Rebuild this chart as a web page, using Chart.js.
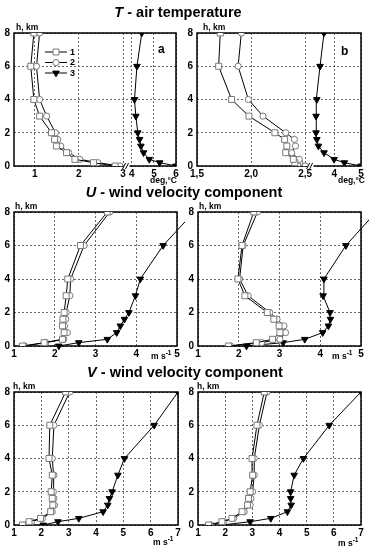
<!DOCTYPE html>
<html>
<head>
<meta charset="utf-8">
<script src="https://cdn.jsdelivr.net/npm/chart.js@4.4.0/dist/chart.umd.min.js"></script>
<style>
body { margin: 0; background: #fff; }
#fig { position: relative; width: 369px; height: 550px; overflow: hidden; font-family: "Liberation Sans", Arial, sans-serif; color: #000; }
#fig canvas { position: absolute; }
.t { position: absolute; font-weight: bold; white-space: nowrap; line-height: 1; z-index: 2; }
.title { font-size: 14.5px; width: 240px; text-align: center; line-height: 15px; }
.hk { font-size: 8.5px; }
.u { font-size: 8.5px; }
.u sup { font-size: 6.5px; }
.let { font-size: 12px; }
</style>
</head>
<body>
<div id="fig">
  <div class="t title" style="left:58px;top:5px"><i>T</i> - air temperature</div>
  <div class="t title" style="left:64px;top:185px"><i>U</i> - wind velocity component</div>
  <div class="t title" style="left:65px;top:365px"><i>V</i> - wind velocity component</div>

  <div class="t hk" style="left:16px;top:23px">h, km</div>
  <div class="t hk" style="left:203px;top:23px">h, km</div>
  <div class="t hk" style="left:15px;top:202px">h, km</div>
  <div class="t hk" style="left:199px;top:202px">h, km</div>
  <div class="t hk" style="left:13px;top:382px">h, km</div>
  <div class="t hk" style="left:197px;top:382px">h, km</div>

  <div class="t let" style="left:158px;top:43px">a</div>
  <div class="t let" style="left:341px;top:45px">b</div>

  <div class="t u" style="left:150px;top:176px">deg,°C</div>
  <div class="t u" style="left:338px;top:176px">deg,°C</div>
  <div class="t u" style="left:151px;top:350px">m s<sup>-1</sup></div>
  <div class="t u" style="left:332px;top:350px">m s<sup>-1</sup></div>
  <div class="t u" style="left:153px;top:536px">m s<sup>-1</sup></div>
  <div class="t u" style="left:338px;top:537px">m s<sup>-1</sup></div>
</div>
<script>
// heights of the profile points, km
const heights = [0, 0.2, 0.4, 0.8, 1.2, 1.6, 2, 3, 4, 6, 8];
const seriesNames = ['1', '2', '3'];

// T - air temperature, deg C (a, b)
const tempA1 = [2.82, 2.33, 1.91, 1.72, 1.49, 1.45, 1.38, 1.11, 0.98, 0.91, 0.98];
const tempA2 = [2.93, 2.43, 2.02, 1.77, 1.59, 1.52, 1.47, 1.27, 1.11, 1.04, 1.11];
const tempA3 = [6.0, 5.26, 4.79, 4.53, 4.41, 4.35, 4.27, 4.18, 4.12, 4.23, 4.45];
const tempB1 = [2.43, 2.405, 2.39, 2.32, 2.33, 2.31, 2.22, 1.98, 1.82, 1.70, 1.715];
const tempB2 = [2.50, 2.45, 2.445, 2.375, 2.41, 2.40, 2.32, 2.11, 1.975, 1.88, 1.91];
const tempB3 = [5.0, 4.375, 3.99, 3.61, 3.40, 3.34, 3.31, 3.31, 3.34, 3.46, 3.61];

// U - wind velocity component, m/s
const uA1 = [1.21, 1.74, 2.19, 2.23, 2.19, 2.20, 2.23, 2.28, 2.32, 2.63, 3.29];
const uA2 = [1.26, 1.78, 2.22, 2.31, 2.24, 2.27, 2.28, 2.37, 2.39, 2.72, 3.35];
const uA3 = [2.10, 2.59, 3.29, 3.52, 3.61, 3.71, 3.82, 3.98, 4.10, 4.66, 5.42];
const uB1 = [1.75, 2.43, 2.83, 3.01, 2.99, 2.86, 2.70, 2.15, 1.98, 2.08, 2.37];
const uB2 = [1.80, 2.56, 3.01, 3.15, 3.11, 2.94, 2.76, 2.23, 2.02, 2.11, 2.46];
const uB3 = [2.19, 3.09, 3.62, 4.06, 4.20, 4.25, 4.24, 4.07, 4.09, 4.63, 5.37];

// V - wind velocity component, m/s
const vA1 = [1.31, 1.55, 1.97, 2.34, 2.42, 2.40, 2.36, 2.40, 2.28, 2.31, 2.89];
const vA2 = [1.39, 1.64, 2.04, 2.40, 2.48, 2.46, 2.44, 2.46, 2.40, 2.46, 3.04];
const vA3 = [2.07, 2.61, 3.37, 4.26, 4.43, 4.49, 4.59, 4.80, 5.04, 6.13, 7.0];
const vB1 = [1.39, 1.88, 2.25, 2.62, 2.82, 2.86, 2.92, 3.01, 2.99, 3.17, 3.44];
const vB2 = [1.48, 1.94, 2.31, 2.70, 2.92, 2.95, 3.01, 3.07, 3.07, 3.26, 3.54];
const vB3 = [1.90, 2.92, 3.68, 4.29, 4.43, 4.41, 4.41, 4.54, 4.88, 5.83, 7.0];

// x tick values and labels
const tempATicks = [1, 2, 3, 4, 5, 6];
const tempALabels = ['1', '2', '3', '4', '5', '6'];
const tempBTicks = [1.5, 2.0, 2.5, 4, 5];
const tempBLabels = ['1,5', '2,0', '2,5', '4', '5'];
const uTicks = [1, 2, 3, 4, 5];
const vTicks = [1, 2, 3, 4, 5, 6, 7];
const hTicks = [0, 2, 4, 6, 8];

// broken x axes of the temperature panels
const breakA = v => v < 3.5 ? v : 3.2 + (v - 4) * 0.5;
const breakB = v => v < 3 ? v : 2.77 + (v - 4) * 0.246;

const fontFamily = '"Liberation Sans", Arial, sans-serif';
const tickFont = {family: fontFamily, size: 10, weight: 'bold'};

const styles = [
    {pointStyle: 'rect', radius: 4.2, rotation: 0, fill: '#fff', stroke: '#7a7a7a'},
    {pointStyle: 'circle', radius: 3.1, rotation: 0, fill: '#fff', stroke: '#7a7a7a'},
    {pointStyle: 'triangle', radius: 3.8, rotation: 180, fill: '#000', stroke: '#000'}
];

const framePlugin = {
    id: 'frame',
    beforeDatasetsDraw(chart) {
        const {ctx, chartArea: a} = chart;
        ctx.save();
        ctx.strokeStyle = '#000';
        ctx.lineWidth = 1.5;
        ctx.strokeRect(a.left, a.top, a.width, a.height);
        ctx.restore();
    },
    afterDraw(chart, args, opts) {
        const {ctx, chartArea: a} = chart;
        ctx.save();
        if (opts.breakAt != null) {
            const px = chart.scales.x.getPixelForValue(opts.breakAt);
            const y = a.bottom;
            ctx.fillStyle = '#fff';
            ctx.fillRect(px - 3, y - 2, 6, 4);
            ctx.strokeStyle = '#000';
            ctx.lineWidth = 1;
            ctx.beginPath();
            ctx.moveTo(px - 4, y + 3); ctx.lineTo(px - 1, y - 3);
            ctx.moveTo(px - 1, y + 3); ctx.lineTo(px + 2, y - 3);
            ctx.stroke();
        }
        if (opts.legend) {
            const lg = opts.legend;
            styles.forEach((s, k) => {
                const y = lg.y + k * lg.dy;
                ctx.strokeStyle = '#000';
                ctx.lineWidth = 1;
                ctx.beginPath();
                ctx.moveTo(lg.x, y); ctx.lineTo(lg.x + 22, y);
                ctx.stroke();
                ctx.fillStyle = s.fill;
                ctx.strokeStyle = s.stroke;
                Chart.helpers.drawPoint(ctx, {pointStyle: s.pointStyle, rotation: s.rotation, radius: s.radius, borderWidth: 1}, lg.x + 11, y);
                ctx.fillStyle = '#000';
                ctx.font = 'bold 9px ' + fontFamily;
                ctx.textBaseline = 'middle';
                ctx.fillText(seriesNames[k], lg.x + 25, y + 0.5);
            });
        }
        ctx.restore();
    }
};

function series(vals, k, map, clip) {
    const s = styles[k];
    const ds = {
        label: seriesNames[k],
        data: heights.map((h, i) => ({x: map(vals[i]), y: h})),
        showLine: true,
        borderColor: '#000',
        borderWidth: 1,
        pointStyle: s.pointStyle,
        pointRadius: s.radius,
        pointRotation: s.rotation,
        pointBackgroundColor: s.fill,
        pointBorderColor: s.stroke,
        pointBorderWidth: 1
    };
    if (clip) ds.clip = clip;
    return ds;
}

function panel(cfg) {
    const fig = document.getElementById('fig');
    const c = document.createElement('canvas');
    c.width = cfg.w;
    c.height = cfg.h;
    c.style.left = cfg.left + 'px';
    c.style.top = cfg.top + 'px';
    fig.insertBefore(c, fig.firstChild);
    const map = cfg.map || (v => v);
    new Chart(c, {
        type: 'scatter',
        data: {
            datasets: cfg.values.map((vals, k) => series(vals, k, map, k === 2 ? cfg.clip3 : null))
        },
        options: {
            responsive: false,
            animation: false,
            devicePixelRatio: 1,
            layout: {padding: {top: cfg.pt, right: 8, left: 0, bottom: 0}},
            plugins: {
                legend: {display: false},
                tooltip: {enabled: false},
                frame: {breakAt: cfg.breakAt, legend: cfg.legend}
            },
            scales: {
                x: {
                    type: 'linear',
                    min: map(cfg.min),
                    max: map(cfg.max),
                    afterFit: s => { s.height = 20; },
                    afterBuildTicks: s => { s.ticks = cfg.ticks.map(v => ({value: map(v)})); },
                    ticks: {
                        autoSkip: false, maxRotation: 0, padding: 2, color: '#000', font: tickFont,
                        callback: (v, i) => cfg.labels ? cfg.labels[i] : String(cfg.ticks[i])
                    },
                    grid: {color: '#666', lineWidth: 1, drawTicks: false},
                    border: {display: false, dash: [2, 2]}
                },
                y: {
                    type: 'linear',
                    min: 0,
                    max: 8,
                    afterFit: s => { s.width = 14; },
                    afterBuildTicks: s => { s.ticks = hTicks.map(v => ({value: v})); },
                    ticks: {padding: 4, color: '#000', font: tickFont},
                    grid: {color: '#666', lineWidth: 1, drawTicks: false},
                    border: {display: false, dash: [2, 2]}
                }
            }
        },
        plugins: [framePlugin]
    });
}

const overflow = {left: 5, top: 5, right: 8, bottom: 5};

panel({left: 0, top: 0, w: 184, h: 186, pt: 33, values: [tempA1, tempA2, tempA3], map: breakA,
    min: 0.53, max: 6, ticks: tempATicks, labels: tempALabels, breakAt: 3.08,
    legend: {x: 45, y: 52, dy: 10.5}});
panel({left: 183, top: 0, w: 186, h: 186, pt: 33, values: [tempB1, tempB2, tempB3], map: breakB,
    min: 1.5, max: 5, ticks: tempBTicks, labels: tempBLabels, breakAt: 2.55});
panel({left: 0, top: 180, w: 185, h: 186, pt: 32, values: [uA1, uA2, uA3],
    min: 1, max: 5, ticks: uTicks, clip3: overflow});
panel({left: 184, top: 180, w: 185, h: 186, pt: 32, values: [uB1, uB2, uB3],
    min: 1, max: 5, ticks: uTicks, clip3: overflow});
panel({left: 0, top: 360, w: 186, h: 185, pt: 32, values: [vA1, vA2, vA3],
    min: 1, max: 7, ticks: vTicks});
panel({left: 184, top: 360, w: 185, h: 185, pt: 32, values: [vB1, vB2, vB3],
    min: 1, max: 7, ticks: vTicks});
</script>
</body>
</html>
